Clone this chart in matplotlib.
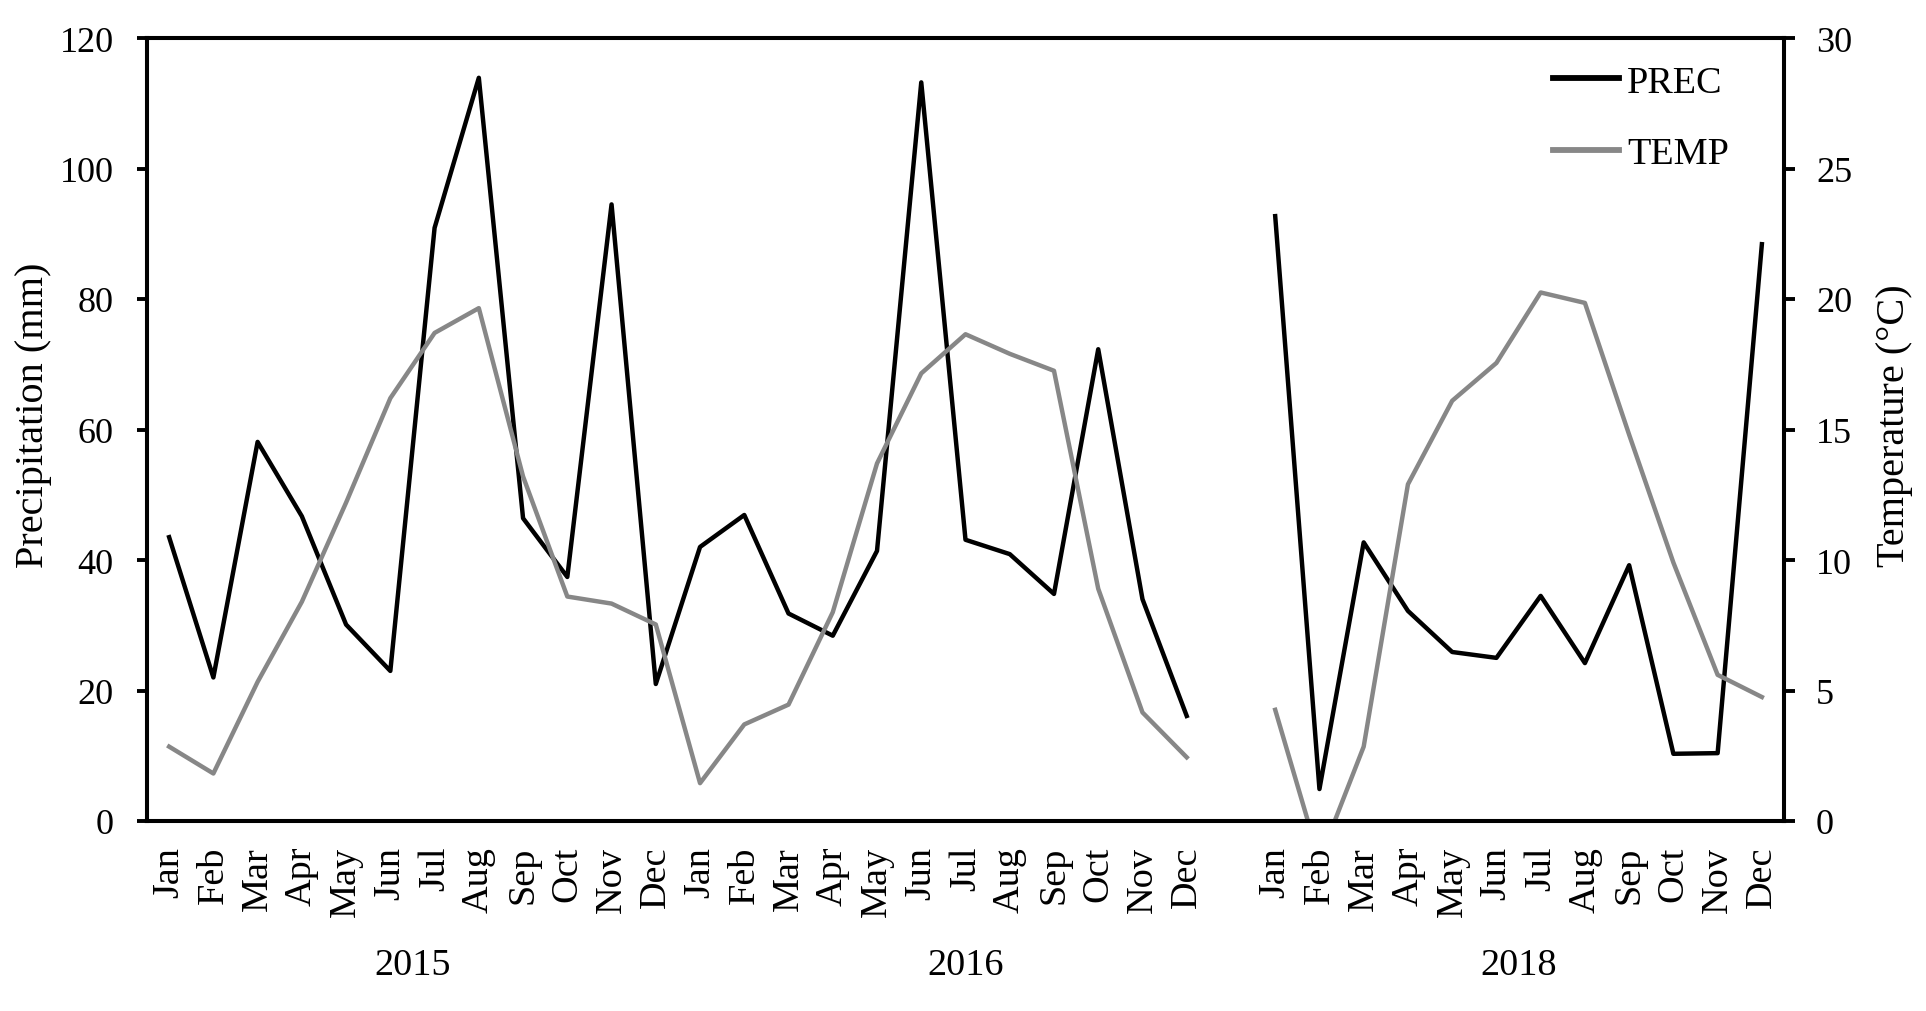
import numpy as np
import matplotlib
matplotlib.use("Agg")
import matplotlib.pyplot as plt
from matplotlib import transforms

plt.rcParams['font.family'] = ['Liberation Serif', 'DejaVu Serif']

months = ["Jan", "Feb", "Mar", "Apr", "May", "Jun", "Jul", "Aug", "Sep", "Oct", "Nov", "Dec"]
years = ["2015", "2016", "2018"]

prec_2015 = [43.5, 22.0, 58.1, 46.7, 30.1, 23.0, 90.9, 113.9, 46.4, 37.4, 94.5, 21.0]
prec_2016 = [42.0, 46.9, 31.8, 28.4, 41.4, 113.2, 43.1, 40.9, 34.8, 72.3, 34.0, 16.1]
prec_2018 = [92.7, 4.9, 42.7, 32.2, 25.9, 25.0, 34.5, 24.2, 39.2, 10.3, 10.4, 88.4]

temp_2015 = [2.85, 1.82, 5.33, 8.4, 12.2, 16.2, 18.7, 19.65, 13.2, 8.6, 8.33, 7.53]
temp_2016 = [1.45, 3.7, 4.46, 8.0, 13.7, 17.15, 18.65, 17.9, 17.25, 8.9, 4.16, 2.44]
temp_2018 = [4.26, -1.5, 2.85, 12.9, 16.1, 17.55, 20.25, 19.85, 14.8, 9.9, 5.6, 4.75]

# categorical layout: 2015, 2016, one empty slot, 2018
gap = [np.nan]
prec = np.array(prec_2015 + prec_2016 + gap + prec_2018, dtype=float)
temp = np.array(temp_2015 + temp_2016 + gap + temp_2018, dtype=float)
labels = months + months + [""] + months
x = np.arange(len(prec))
year_pos = [5.5, 18.0, 30.5]

W, H = 1926, 1012
fig = plt.figure(figsize=(W / 100, H / 100), dpi=100)
ax = fig.add_axes([147 / W, 1 - 822 / H, (1784 - 147) / W, (822 - 39) / H])
ax2 = ax.twinx()

FS_TICK = 26
FS = 27.5
FS_LAB = 29
lw = 3.2
ax.plot(x, prec, color='black', lw=lw, label='PREC')
ax2.plot(x, temp, color='#878787', lw=lw, label='TEMP')

ax.set_xlim(-0.5, len(x) - 0.5)
ax.set_ylim(0, 120)
ax2.set_ylim(0, 30)
ax.set_yticks(np.arange(0, 121, 20))
ax2.set_yticks(np.arange(0, 31, 5))

ax.set_xticks(x)
ax.set_xticklabels(labels, rotation=90, fontsize=FS)
ax.tick_params(axis='x', length=0, pad=18)
ax.tick_params(axis='y', direction='out', length=7, width=2.8, labelsize=FS_TICK, pad=17)
ax2.tick_params(axis='y', direction='out', length=8, width=2.8, labelsize=FS_TICK, pad=15)

for a in (ax, ax2):
    for s in a.spines.values():
        s.set_linewidth(2.9)

ax.set_ylabel('Precipitation (mm)', fontsize=FS_LAB)
ax2.set_ylabel('Temperature (°C)', fontsize=FS_LAB)
ax.yaxis.set_label_coords(-0.058, 0.52)
ax2.yaxis.set_label_coords(1.056, 0.506)

tr = transforms.blended_transform_factory(ax.transData, fig.transFigure)
for yp, yr in zip(year_pos, years):
    ax.text(yp, 1 - 966 / H, yr, transform=tr, fontsize=FS, ha='center', va='center')

h1, l1 = ax.get_legend_handles_labels()
h2, l2 = ax2.get_legend_handles_labels()
leg = ax2.legend(h1 + h2, l1 + l2, loc='upper left', bbox_to_anchor=(0.859, 0.9655),
                 frameon=False, fontsize=FS, handlelength=1.73, handletextpad=0.2,
                 labelspacing=0.96, borderpad=0, borderaxespad=0)
for lh in leg.get_lines():
    lh.set_linewidth(4.2)

fig.savefig('out.png', dpi=100)
